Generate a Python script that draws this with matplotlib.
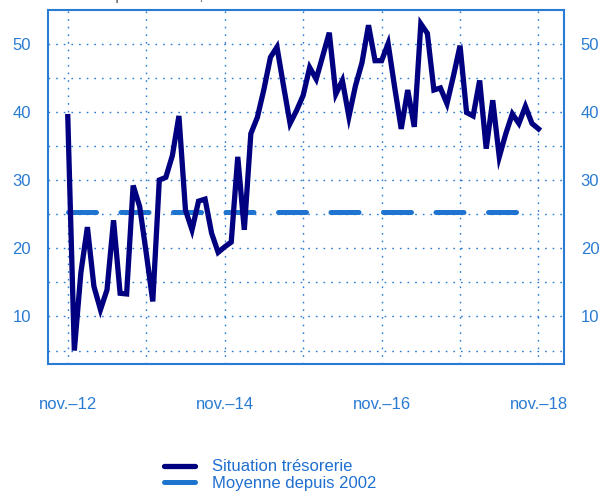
import matplotlib
matplotlib.use("Agg")
import matplotlib.pyplot as plt
import numpy as np

# Situation de trésorerie, soldes mensuels nov. 2012 -> nov. 2018
tresorerie = [39.3, 5.0, 16.4, 23.1, 14.4, 11.0, 13.9, 24.1, 13.4, 13.3,
              29.2, 26.1, 19.3, 12.2, 30.0, 30.4, 33.6, 39.4, 25.6, 22.7,
              26.9, 27.2, 22.2, 19.4, 20.2, 20.9, 33.4, 22.7, 36.8, 39.2,
              43.3, 48.0, 49.5, 43.8, 38.3, 40.2, 42.4, 46.5, 44.8, 48.2,
              51.6, 42.6, 44.6, 39.3, 43.8, 47.2, 52.7, 47.5, 47.5, 50.0,
              43.6, 37.5, 43.2, 37.8, 52.9, 51.5, 43.2, 43.5, 41.2, 45.3,
              49.7, 39.9, 39.4, 44.6, 34.6, 41.7, 33.4, 36.8, 39.7, 38.3,
              40.8, 38.3, 37.5]
moyenne = 25.3

tick_labels = ["nov.\u201312", "nov.\u201314", "nov.\u201316", "nov.\u201318"]
label_tresorerie = "Situation trésorerie"
label_moyenne = "Moyenne depuis 2002"

blue = "#2a7bd3"
navy = "#000080"
avg_blue = "#1f74cf"

plt.rcParams["font.family"] = ["Liberation Sans", "DejaVu Sans"]

months = np.arange(len(tresorerie))

fig = plt.figure(figsize=(6.03, 4.96), dpi=100)
ax = fig.add_axes([0.0788, 0.2671, 0.8565, 0.7137])

ax.plot(months, tresorerie, color=navy, lw=3.8, solid_joinstyle="miter",
        label=label_tresorerie, zorder=3)
ax.plot(months, [moyenne] * len(months), color=avg_blue, lw=3.6,
        linestyle=(0, (5.6, 4.9)), dash_capstyle="round",
        label=label_moyenne, zorder=2)

ax.set_xlim(-3.1, 75.9)
ax.set_ylim(3.1, 55.0)

ax.set_xticks([0, 24, 48, 72])
ax.set_xticklabels(tick_labels)
ax.set_xticks([12, 36, 60], minor=True)
ax.set_yticks([10, 20, 30, 40, 50])
ax.set_yticks([5, 15, 25, 35, 45], minor=True)

grid_style = dict(color=blue, lw=1.0, linestyle=(0, (1.2, 4.3)))
ax.grid(True, which="both", **grid_style)
ax.set_axisbelow(True)

ax.tick_params(axis="both", which="both", length=0, colors=blue,
               labelsize=12)
ax.tick_params(axis="x", pad=24)
ax.tick_params(axis="y", pad=12, labelright=True)

for sp in ax.spines.values():
    sp.set_color(blue)
    sp.set_linewidth(1.5)

# titre coupé en haut de l'image
fig.text(0.082, 1.0, "Solde d'opinion en %, données CVS",
         color="#555555", fontsize=11.5, va="baseline", ha="left")

leg = fig.legend(loc="center", bbox_to_anchor=(0.448, 0.042),
                 frameon=False, fontsize=12, handlelength=1.9,
                 handletextpad=1.0, labelspacing=0.1, borderpad=0)
for txt in leg.get_texts():
    txt.set_color("#1f6fd0")
for ln in leg.get_lines():
    ln.set_linestyle("-")
    ln.set_solid_capstyle("round")

fig.savefig("out.png", dpi=100)
